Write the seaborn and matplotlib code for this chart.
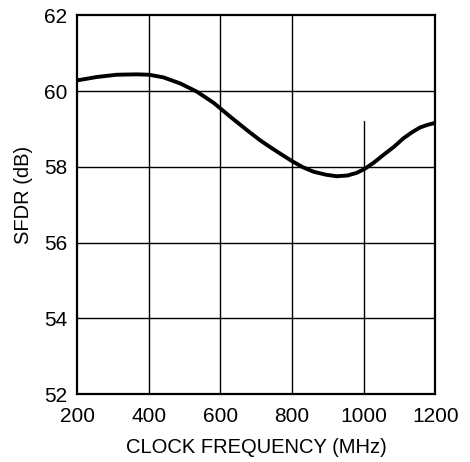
import numpy as np
import pandas as pd
import matplotlib
matplotlib.use('Agg')
import matplotlib.pyplot as plt
import seaborn as sns

# SFDR vs clock frequency
clock_mhz = [200, 255, 311, 367, 401, 441, 488, 535, 581, 628, 674, 711,
             739, 770, 800, 830, 860, 895, 925, 955, 981, 1004, 1030, 1055,
             1085, 1111, 1135, 1158, 1180, 1200]
sfdr_db = [60.28, 60.37, 60.43, 60.44, 60.43, 60.36, 60.2, 59.98, 59.69, 59.32,
           58.97, 58.70, 58.52, 58.33, 58.15, 57.99, 57.87, 57.79, 57.75, 57.77,
           57.84, 57.95, 58.12, 58.31, 58.53, 58.75, 58.91, 59.04, 59.11, 59.16]

x_ticks = [200, 400, 600, 800, 1000, 1200]
y_ticks = [52, 54, 56, 58, 60, 62]

df = pd.DataFrame({'clock': clock_mhz, 'sfdr': sfdr_db})

sns.set_style('white')
plt.rcParams['font.family'] = ['Liberation Sans', 'DejaVu Sans']
plt.rcParams['text.color'] = 'black'
plt.rcParams['axes.labelcolor'] = 'black'

fig, ax = plt.subplots(figsize=(4.7, 4.62), dpi=100)
fig.subplots_adjust(left=0.164, right=0.926, top=0.967, bottom=0.147)

# grid (the 1000 MHz line is broken near the top in the original)
for xv in x_ticks[1:-1]:
    top = 59.2 if xv == 1000 else 62
    ax.plot([xv, xv], [52, top], color='black', lw=1.0, zorder=1)
for yv in y_ticks[1:-1]:
    ax.axhline(yv, color='black', lw=1.0, zorder=1)

sns.lineplot(data=df, x='clock', y='sfdr', color='black', lw=2.8, ax=ax,
             zorder=3, solid_joinstyle='round', solid_capstyle='butt')

ax.set_xlim(200, 1200)
ax.set_ylim(52, 62)
ax.set_xticks(x_ticks)
ax.set_yticks(y_ticks)
ax.tick_params(axis='both', length=0, labelsize=15, colors='black')
ax.tick_params(axis='x', pad=9)
ax.tick_params(axis='y', pad=7)
ax.set_xlabel('CLOCK FREQUENCY (MHz)', fontsize=14.5, labelpad=9, color='black')
ax.set_ylabel('SFDR (dB)', fontsize=14.5, color='black')
ax.yaxis.set_label_coords(-0.123, 0.525)
for s in ax.spines.values():
    s.set_visible(True)
    s.set_color('black')
    s.set_linewidth(1.6)

fig.savefig('out.png', dpi=100)
